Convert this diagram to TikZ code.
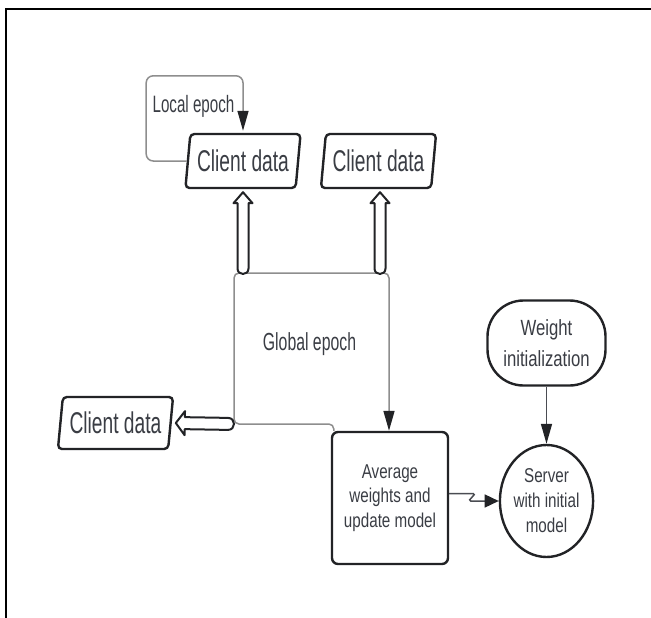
\documentclass[tikz,border=0pt]{standalone}
\usepackage{fontspec}
\setmainfont{Liberation Sans}[FakeStretch=0.64]
\newfontfamily\widerfont{Liberation Sans}[FakeStretch=0.76]
\usetikzlibrary{shapes.geometric,arrows.meta,calc}
\definecolor{txt}{HTML}{3A3D44}
\definecolor{edge}{HTML}{222326}
\definecolor{gline}{HTML}{8E8E8E}
\definecolor{aline}{HTML}{4A4C52}
\newcommand\hollowarrow[5]{% tail, tip, head length, half shaft, half head
  \coordinate (ha) at (#1);
  \coordinate (hb) at (#2);
  \coordinate (hh) at ($(hb)!#3!(ha)$);
  \coordinate (ht) at ($(ha)!#4!(hb)$);
  \draw[hollow] (hb) -- ($(hh)!#5!90:(hb)$) -- ($(hh)!#4!90:(hb)$)
    -- ($(ht)!#4!90:(hb)$) to[bend right=90, looseness=1.7] ($(ht)!#4!-90:(hb)$)
    -- ($(hh)!#4!-90:(hb)$) -- ($(hh)!#5!-90:(hb)$) -- cycle;
}
\begin{document}
\begin{tikzpicture}[x=1pt,y=-1pt,
  every node/.style={text=txt, inner sep=0pt, align=center},
  cdata/.style={trapezium, trapezium left angle=79, trapezium right angle=101,
    trapezium stretches=true, minimum width=116pt, minimum height=54pt,
    draw=edge, line width=2.4pt, rounded corners=4pt,
    font=\fontsize{30}{32}\selectfont},
  procbox/.style={rectangle, draw=edge, line width=2.4pt, rounded corners=6pt,
    minimum width=116pt, minimum height=132pt, font=\widerfont\fontsize{20}{24.5}\selectfont},
  stadium/.style={rectangle, draw=edge, line width=2.4pt, rounded corners=36pt,
    minimum width=118pt, minimum height=85pt, font=\widerfont\fontsize{22}{30.5}\selectfont},
  server/.style={ellipse, draw=edge, line width=2.4pt, minimum width=80pt,
    minimum height=112pt, font=\widerfont\fontsize{20}{25}\selectfont},
  label/.style={font=\fontsize{#1}{#1}\selectfont},
  loopline/.style={draw=gline, line width=1.5pt, rounded corners=6pt},
  vtip/.style={-{Triangle[length=20pt,width=11pt,color=edge]}},
  htip/.style={-{Triangle[length=14pt,width=13pt,color=edge]}},
  hollow/.style={draw=edge, line width=2pt, fill=white, line join=round},
]
\useasboundingbox (0,0) rectangle (651,618);
% frame
\draw[black, line width=2.2pt] (653,9) -- (6,9) -- (6,620);

% nodes
\node[cdata] (cd1) at (243,161) {Client data};
\node[cdata] (cd2) at (378.5,161) {Client data};
\node[cdata, minimum height=52pt] (cd3) at (115.5,423) {Client data};
\node[procbox] (avg) at (390,498) {Average\\weights and\\update model};
\node[stadium] (wi) at (546.5,343) {Weight\\initialization};
\node[server] (srv) at (546.5,501) {Server\\with initial\\model};
\node[label=23.7] (le) at (193.5,106) {Local epoch};
\node[label=24.7] (ge) at (309.5,344) {Global epoch};

% global epoch outline
\coordinate (gtl) at (234,273);
\coordinate (gtr) at (389,273);
\coordinate (gbl) at (234,424);
\draw[loopline, rounded corners=5pt, vtip]
  ($(avg.north west)+(3,0)$) |- (gbl) |- (gtr) -- (gtr |- avg.north);

% local epoch loop
\draw[loopline, rounded corners=7pt, vtip]
  (cd1.west) -- ++(-40.5,0) |- ($(cd1.north)+(0,-57)$) -- ($(cd1.north)+(0,-2)$);

% hollow arrows
\hollowarrow{$(cd1.south |- gtl)+(0,1)$}{$(cd1.south)+(0,3)$}{11pt}{5.5pt}{9.5pt}
\hollowarrow{$(cd2.south |- gtl)+(1.5,1)$}{$(cd2.south)+(1.5,3)$}{11pt}{5.5pt}{9.5pt}
\hollowarrow{gbl}{$(cd3.east)+(4,0)$}{9pt}{6pt}{12pt}

% other connectors
\draw[aline, line width=1.5pt, vtip] (wi.south) -- (srv.north);
\draw[aline, line width=1.5pt, htip] ($(avg.east)+(0,-4.5)$) -- ++(24,0)
  .. controls +(5,0) and +(-5,0) .. ($(srv.west)+(-28,0)$) -- (srv.west);
\end{tikzpicture}
\end{document}
